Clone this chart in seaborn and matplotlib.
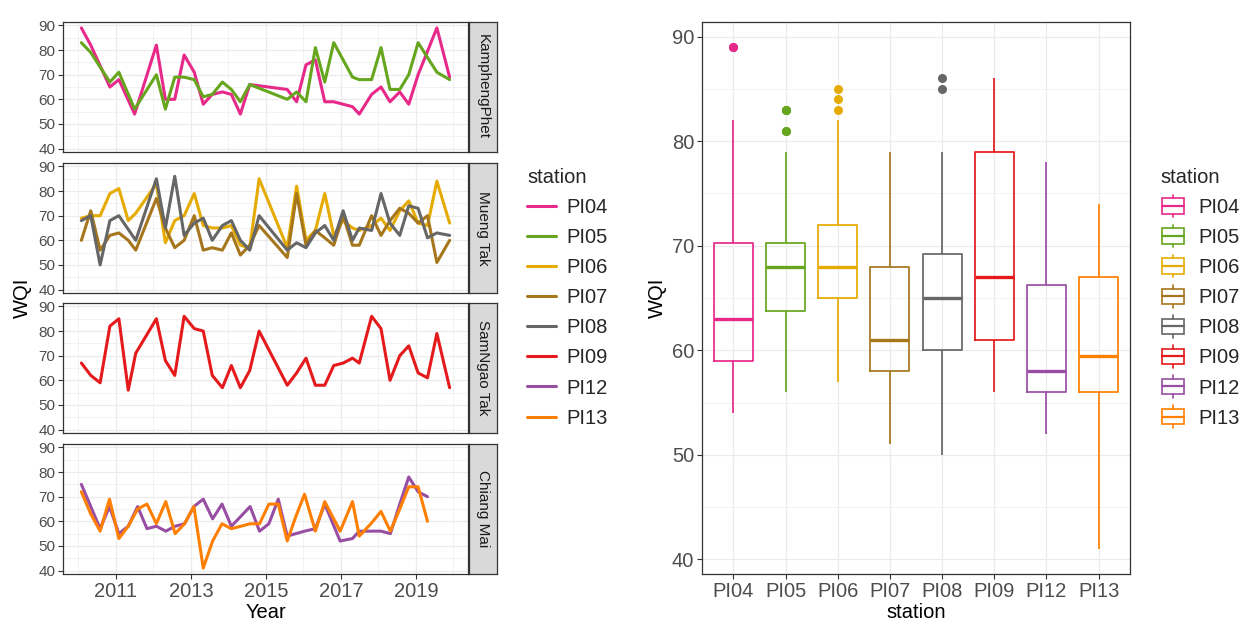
import numpy as np
import pandas as pd
import matplotlib
matplotlib.use("Agg")
import matplotlib.pyplot as plt
import seaborn as sns
from matplotlib.lines import Line2D
from matplotlib.patches import Rectangle
from matplotlib.legend_handler import HandlerBase
from matplotlib.ticker import FixedLocator

# ---------------- data ----------------
stations = ["PI04", "PI05", "PI06", "PI07", "PI08", "PI09", "PI12", "PI13"]
colors = ["#E7298A", "#66A61E", "#E6AB02", "#A6761D", "#666666", "#E41A1C", "#984EA3", "#FF7F00"]
regions = ["KamphengPhet", "Mueng Tak", "SamNgao Tak", "Chiang Mai"]
region_stations = [["PI04", "PI05"], ["PI06", "PI07", "PI08"], ["PI09"], ["PI12", "PI13"]]

t_kp = [2010.08, 2010.33, 2010.84, 2011.08, 2011.5, 2012.08, 2012.32, 2012.57, 2012.82, 2013.09,
        2013.33, 2013.57, 2013.84, 2014.08, 2014.32, 2014.57, 2015.57, 2015.82, 2016.07, 2016.32,
        2016.57, 2016.81, 2017.31, 2017.49, 2017.82, 2018.07, 2018.31, 2018.57, 2018.81, 2019.06,
        2019.56, 2019.90]
pi04 = [89, 82, 65, 68, 54, 82, 60, 60, 78, 71, 58, 62, 63, 62, 54, 66, 64, 59, 74, 76,
        59, 59, 57, 54, 62, 65, 59, 63, 58, 70, 89, 69]
pi05 = [83, 79, 67, 71, 56, 70, 56, 69, 69, 68, 61, 62, 67, 64, 59, 66, 60, 63, 59, 81,
        67, 83, 69, 68, 68, 81, 64, 64, 70, 83, 71, 68]

t_full = [2010.08, 2010.33, 2010.58, 2010.84, 2011.08, 2011.33, 2011.53, 2012.08, 2012.32, 2012.57,
          2012.82, 2013.09, 2013.33, 2013.57, 2013.84, 2014.08, 2014.32, 2014.57, 2014.82, 2015.57,
          2015.82, 2016.07, 2016.32, 2016.57, 2016.81, 2017.06, 2017.31, 2017.49, 2017.82, 2018.07,
          2018.31, 2018.57, 2018.81, 2019.06, 2019.31, 2019.56, 2019.90]
pi06 = [69, 70, 70, 79, 81, 68, 71, 83, 59, 68, 70, 79, 66, 65, 65, 66, 58, 57, 85, 57,
        82, 60, 64, 79, 62, 68, 65, 64, 66, 69, 64, 72, 76, 67, 66, 84, 67]
pi07 = [60, 72, 56, 62, 63, 60, 56, 77, 65, 57, 60, 70, 56, 57, 56, 63, 54, 58, 66, 53,
        79, 58, 64, 61, 58, 70, 58, 58, 70, 62, 68, 73, 71, 67, 70, 51, 60]
t_pi08 = [2010.08, 2010.33, 2010.58, 2010.84, 2011.08, 2011.53, 2012.08, 2012.32, 2012.57, 2012.82,
          2013.09, 2013.33, 2013.57, 2013.84, 2014.08, 2014.32, 2014.57, 2014.82, 2015.57, 2015.82,
          2016.07, 2016.32, 2016.57, 2016.81, 2017.06, 2017.31, 2017.49, 2017.82, 2018.07, 2018.31,
          2018.57, 2018.81, 2019.06, 2019.31, 2019.56, 2019.90]
pi08 = [68, 70, 50, 68, 70, 60, 85, 65, 86, 62, 67, 69, 60, 66, 68, 60, 56, 70, 56, 59,
        57, 63, 66, 60, 72, 60, 65, 64, 79, 67, 62, 74, 73, 61, 63, 62]
pi09 = [67, 62, 59, 82, 85, 56, 71, 85, 68, 62, 86, 81, 80, 62, 57, 66, 57, 64, 80, 58,
        63, 69, 58, 58, 66, 67, 69, 67, 86, 81, 60, 70, 74, 63, 61, 79, 57]

t_pi12 = [2010.08, 2010.33, 2010.58, 2010.83, 2011.08, 2011.33, 2011.58, 2011.83, 2012.08, 2012.33,
          2012.58, 2012.83, 2013.08, 2013.33, 2013.58, 2013.83, 2014.08, 2014.58, 2014.83, 2015.08,
          2015.33, 2015.57, 2015.80, 2016.03, 2016.32, 2016.57, 2016.98, 2017.31, 2017.49, 2017.80,
          2018.07, 2018.32, 2018.57, 2018.81, 2019.06, 2019.31]
pi12 = [75, 66, 57, 66, 55, 58, 66, 57, 58, 56, 58, 59, 66, 69, 61, 67, 58, 66, 56, 59,
        69, 54, 55, 56, 57, 67, 52, 53, 56, 56, 56, 55, 67, 78, 72, 70]
t_pi13 = [2010.08, 2010.33, 2010.58, 2010.83, 2011.08, 2011.33, 2011.58, 2011.83, 2012.08, 2012.33,
          2012.58, 2012.83, 2013.08, 2013.33, 2013.58, 2013.83, 2014.08, 2014.58, 2014.83, 2015.08,
          2015.33, 2015.57, 2015.80, 2016.03, 2016.32, 2016.57, 2016.98, 2017.31, 2017.49, 2017.80,
          2018.07, 2018.32, 2018.57, 2018.81, 2019.06, 2019.31]
pi13 = [72, 63, 56, 69, 53, 58, 65, 67, 59, 68, 55, 59, 66, 41, 52, 59, 57, 59, 59, 67,
        67, 52, 62, 71, 56, 68, 56, 68, 54, 59, 64, 56, 65, 74, 74, 60]

series = {
    "PI04": (t_kp, pi04), "PI05": (t_kp, pi05),
    "PI06": (t_full, pi06), "PI07": (t_full, pi07), "PI08": (t_pi08, pi08),
    "PI09": (t_full, pi09),
    "PI12": (t_pi12, pi12), "PI13": (t_pi13, pi13),
}
rows = []
for reg, sts in zip(regions, region_stations):
    for s in sts:
        t, v = series[s]
        for ti, vi in zip(t, v):
            rows.append({"Year": ti, "WQI": vi, "station": s, "region": reg})
df = pd.DataFrame(rows)
pal = dict(zip(stations, colors))

# ---------------- style ----------------
sns.set_theme(style="white")
plt.rcParams["font.family"] = ["Liberation Sans", "DejaVu Sans"]
W, H = 1243, 624
fig = plt.figure(figsize=(W / 100, H / 100), dpi=100)
fig.patch.set_facecolor("white")

def rect(l, t, r, b):
    return [l / W, 1 - b / H, (r - l) / W, (b - t) / H]

GRID = "#EBEBEB"
BORDER = "#333333"
TICKC = "#4D4D4D"

def style_axes(ax):
    for sp in ax.spines.values():
        sp.set_color(BORDER)
        sp.set_linewidth(0.9)
        sp.set_visible(True)
    ax.set_facecolor("white")
    ax.grid(which="major", color=GRID, linewidth=0.9)
    ax.grid(which="minor", color=GRID, linewidth=0.45)
    ax.set_axisbelow(True)

# ---------------- left: faceted lines ----------------
tops = [22, 163, 303, 444]
for i, (reg, sts) in enumerate(zip(regions, region_stations)):
    ax = fig.add_axes(rect(63, tops[i], 468, tops[i] + 130))
    sub = df[df["region"] == reg]
    sns.lineplot(data=sub, x="Year", y="WQI", hue="station", hue_order=sts, palette=pal,
                 estimator=None, sort=True, linewidth=2.2, legend=False, ax=ax)
    ax.set_xlim(2009.59, 2020.39)
    ax.set_ylim(38.6, 91.4)
    ax.xaxis.set_major_locator(FixedLocator([2011, 2013, 2015, 2017, 2019]))
    ax.xaxis.set_minor_locator(FixedLocator([2010, 2012, 2014, 2016, 2018, 2020]))
    ax.yaxis.set_major_locator(FixedLocator([40, 50, 60, 70, 80, 90]))
    ax.yaxis.set_minor_locator(FixedLocator([45, 55, 65, 75, 85]))
    style_axes(ax)
    ax.set_xlabel("")
    ax.set_ylabel("")
    ax.tick_params(axis="y", which="major", length=3.5, width=0.8, color=BORDER,
                   labelsize=11, labelcolor=TICKC, pad=2, left=True)
    ax.tick_params(which="minor", length=0)
    if i == 3:
        ax.tick_params(axis="x", which="major", length=3.5, width=0.8, color=BORDER,
                       labelsize=14.5, labelcolor=TICKC, pad=2, bottom=True)
        ax.set_xticklabels(["2011", "2013", "2015", "2017", "2019"])
    else:
        ax.tick_params(axis="x", which="major", length=0, labelbottom=False)
    # strip
    sax = fig.add_axes(rect(469, tops[i], 497, tops[i] + 130))
    sax.set_facecolor("#D9D9D9")
    sax.set_xticks([])
    sax.set_yticks([])
    for sp in sax.spines.values():
        sp.set_color(BORDER)
        sp.set_linewidth(0.9)
    sax.text(0.5, 0.5, reg, rotation=-90, ha="center", va="center", fontsize=11,
             color="#1A1A1A", transform=sax.transAxes)

fig.text(22 / W, 1 - 298 / H, "WQI", rotation=90, ha="center", va="center", fontsize=14.5, color="black")
fig.text(265.5 / W, 1 - 613 / H, "Year", ha="center", va="center", fontsize=14.5, color="black")

line_handles = [Line2D([0], [0], color=pal[s], linewidth=2.2) for s in stations]
fig.legend(line_handles, stations, title="station", loc="upper left",
           bbox_to_anchor=(527 / W, 1 - 168 / H), frameon=False, fontsize=14.5,
           title_fontsize=14.5, handlelength=1.45, handletextpad=0.5, labelspacing=0.55,
           borderaxespad=0, borderpad=0, alignment="left")

# ---------------- right: boxplot ----------------
ax2 = fig.add_axes(rect(702, 22, 1130, 574))
sns.boxplot(data=df, x="station", y="WQI", hue="station", order=stations, hue_order=stations,
            palette=pal, fill=False, width=0.75, linewidth=1.25, showcaps=False, dodge=False,
            flierprops=dict(marker="o", markersize=6.5),
            medianprops=dict(linewidth=2.4), legend=False, ax=ax2)
for ln in ax2.lines:
    if ln.get_marker() == "o":
        ln.set_markerfacecolor(ln.get_markeredgecolor())
        ln.set_markeredgewidth(0)
ax2.set_xlim(-0.6, 7.6)
ax2.set_ylim(38.6, 91.4)
ax2.yaxis.set_major_locator(FixedLocator([40, 50, 60, 70, 80, 90]))
ax2.yaxis.set_minor_locator(FixedLocator([45, 55, 65, 75, 85]))
style_axes(ax2)
ax2.grid(which="minor", axis="x", visible=False)
ax2.tick_params(which="major", length=3.5, width=0.8, color=BORDER, labelsize=14.5,
                labelcolor=TICKC, pad=2, left=True, bottom=True)
ax2.tick_params(which="minor", length=0)
ax2.set_xlabel("")
ax2.set_ylabel("WQI", fontsize=14.5, color="black", labelpad=4)
fig.text(916 / W, 1 - 613 / H, "station", ha="center", va="center", fontsize=14.5, color="black")


class BoxKey(HandlerBase):
    def create_artists(self, legend, orig_handle, xdescent, ydescent, width, height, fontsize, trans):
        c = orig_handle.get_edgecolor()
        x0, y0 = -xdescent, -ydescent
        cx = x0 + width / 2
        r = Rectangle((x0 + 0.06 * width, y0 - 0.05 * height), 0.88 * width, 1.1 * height,
                      facecolor="white", edgecolor=c, linewidth=1.2, transform=trans)
        m = Line2D([x0 + 0.06 * width, x0 + 0.94 * width], [y0 + height / 2] * 2, color=c,
                   linewidth=1.6, transform=trans)
        w1 = Line2D([cx, cx], [y0 + 1.05 * height, y0 + 1.3 * height], color=c, linewidth=1.2,
                    transform=trans)
        w2 = Line2D([cx, cx], [y0 - 0.05 * height, y0 - 0.3 * height], color=c, linewidth=1.2,
                    transform=trans)
        return [r, m, w1, w2]


box_handles = [Rectangle((0, 0), 1, 1, facecolor="white", edgecolor=pal[s]) for s in stations]
fig.legend(box_handles, stations, title="station", loc="upper left",
           bbox_to_anchor=(1160 / W, 1 - 168 / H), frameon=False, fontsize=14.5,
           title_fontsize=14.5, handlelength=1.25, handletextpad=0.65, labelspacing=0.55,
           borderaxespad=0, borderpad=0, alignment="left",
           handler_map={Rectangle: BoxKey()})

fig.savefig("out.png", dpi=100, facecolor="white")
